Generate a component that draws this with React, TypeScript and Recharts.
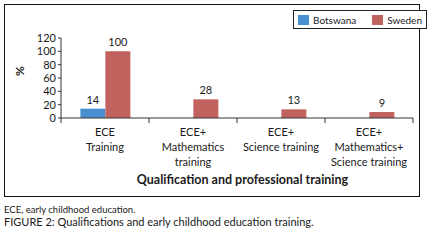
import React from 'react';
import { BarChart, Bar, XAxis, YAxis, Legend, LabelList } from 'recharts';

const categories = [
  'ECE\nTraining',
  'ECE+\nMathematics\ntraining',
  'ECE+\nScience training',
  'ECE+\nMathematics+\nScience training',
];
const botswana: (number | null)[] = [14, null, null, null];
const sweden: (number | null)[] = [100, 28, 13, 9];
const yTicks = [0, 20, 40, 60, 80, 100, 120];

const seriesInfo = [
  { key: 'botswana', name: 'Botswana', color: '#4A8FCF' },
  { key: 'sweden', name: 'Sweden', color: '#C0625E' },
];

const data = categories.map((c, i) => ({ cat: c, botswana: botswana[i], sweden: sweden[i] }));

const FONT = 'Lato, "Open Sans", sans-serif';
const TXT = '#1a1a1a';

const CatTick = (props: any) => {
  const { x, y, payload, index, visibleTicksCount } = props;
  const half = payload && payload.offset ? payload.offset : 44;
  const lines = String(payload.value).split('\n');
  const count = visibleTicksCount || categories.length;
  return (
    <g>
      <line x1={x - half} y1={y - 8} x2={x - half} y2={y - 3} stroke="#333" strokeWidth={1} />
      {index === count - 1 && (
        <line x1={x + half} y1={y - 8} x2={x + half} y2={y - 3} stroke="#333" strokeWidth={1} />
      )}
      <text x={x} y={y} textAnchor="middle" fontFamily={FONT} fontSize={11} fill={TXT}>
        {lines.map((l, i) => (
          <tspan key={i} x={x} dy={i === 0 ? 10 : 15}>{l}</tspan>
        ))}
      </text>
    </g>
  );
};

const LegendBox = () => (
  <div
    style={{
      border: '1px solid #222',
      display: 'flex',
      alignItems: 'center',
      height: 17,
      padding: '0 4px',
      background: '#fff',
      fontFamily: FONT,
      fontSize: 10,
      color: TXT,
    }}
  >
    {seriesInfo.map((s, i) => (
      <div key={s.key} style={{ display: 'flex', alignItems: 'center', marginLeft: i === 0 ? 0 : 16 }}>
        <div style={{ width: 11, height: 10, background: s.color, marginRight: 4 }} />
        <span>{s.name}</span>
      </div>
    ))}
  </div>
);

const valueLabel = (props: any) => {
  const { x, y, width, value } = props;
  if (value === null || value === undefined) return null;
  return (
    <text x={x + width / 2} y={y - 5} textAnchor="middle" fontFamily={FONT} fontSize={11} fill={TXT}>
      {value}
    </text>
  );
};

export default function App() {
  return (
    <div style={{ position: 'fixed', left: 0, top: 0, width: 427, height: 243, background: '#fff', overflow: 'hidden' }}>
      <div style={{ position: 'absolute', left: 4, top: 4, width: 414, height: 191, border: '1px solid #111' }} />
      <div style={{ position: 'absolute', left: 0, top: 0 }}>
        <BarChart
          width={427}
          height={200}
          data={data}
          margin={{ top: 19, right: 14, bottom: 22, left: 21 }}
          barCategoryGap="22%"
          barGap={0}
        >
          <XAxis
            dataKey="cat"
            interval={0}
            tickLine={false}
            axisLine={{ stroke: '#333' }}
            tick={<CatTick />}
            height={60}
          />
          <YAxis
            width={40}
            domain={[0, 120]}
            ticks={yTicks}
            interval={0}
            axisLine={{ stroke: '#333' }}
            tickLine={{ stroke: '#333' }}
            tickSize={3}
            tick={{ fontFamily: FONT, fontSize: 11, fill: TXT }}
            label={{ value: '%', angle: -90, position: 'insideLeft', offset: 0, dx: -1, dy: -2, style: { fontFamily: FONT, fontSize: 12, fontWeight: 'bold', fill: TXT } }}
          />
          <Legend
            content={<LegendBox />}
            layout="horizontal"
            verticalAlign="top"
            align="right"
            wrapperStyle={{ position: 'absolute', left: 293, top: 10, width: 'auto' }}
          />
          {seriesInfo.map((s) => (
            <Bar key={s.key} dataKey={s.key} name={s.name} fill={s.color} isAnimationActive={false}>
              <LabelList dataKey={s.key} content={valueLabel} />
            </Bar>
          ))}
        </BarChart>
      </div>
      <div
        style={{
          position: 'absolute',
          left: 0,
          width: 427,
          top: 172,
          textAlign: 'center',
          paddingLeft: 58,
          boxSizing: 'border-box',
          fontFamily: FONT,
          fontWeight: 'bold',
          fontSize: 12.5,
          color: TXT,
        }}
      >
        Qualification and professional training
      </div>
      <div style={{ position: 'absolute', left: 4, top: 204, fontFamily: FONT, fontSize: 9.5, color: TXT }}>
        ECE, early childhood education.
      </div>
      <div style={{ position: 'absolute', left: 4, top: 215, fontFamily: FONT, fontSize: 11, color: TXT }}>
        FIGURE 2: Qualifications and early childhood education training.
      </div>
    </div>
  );
}
